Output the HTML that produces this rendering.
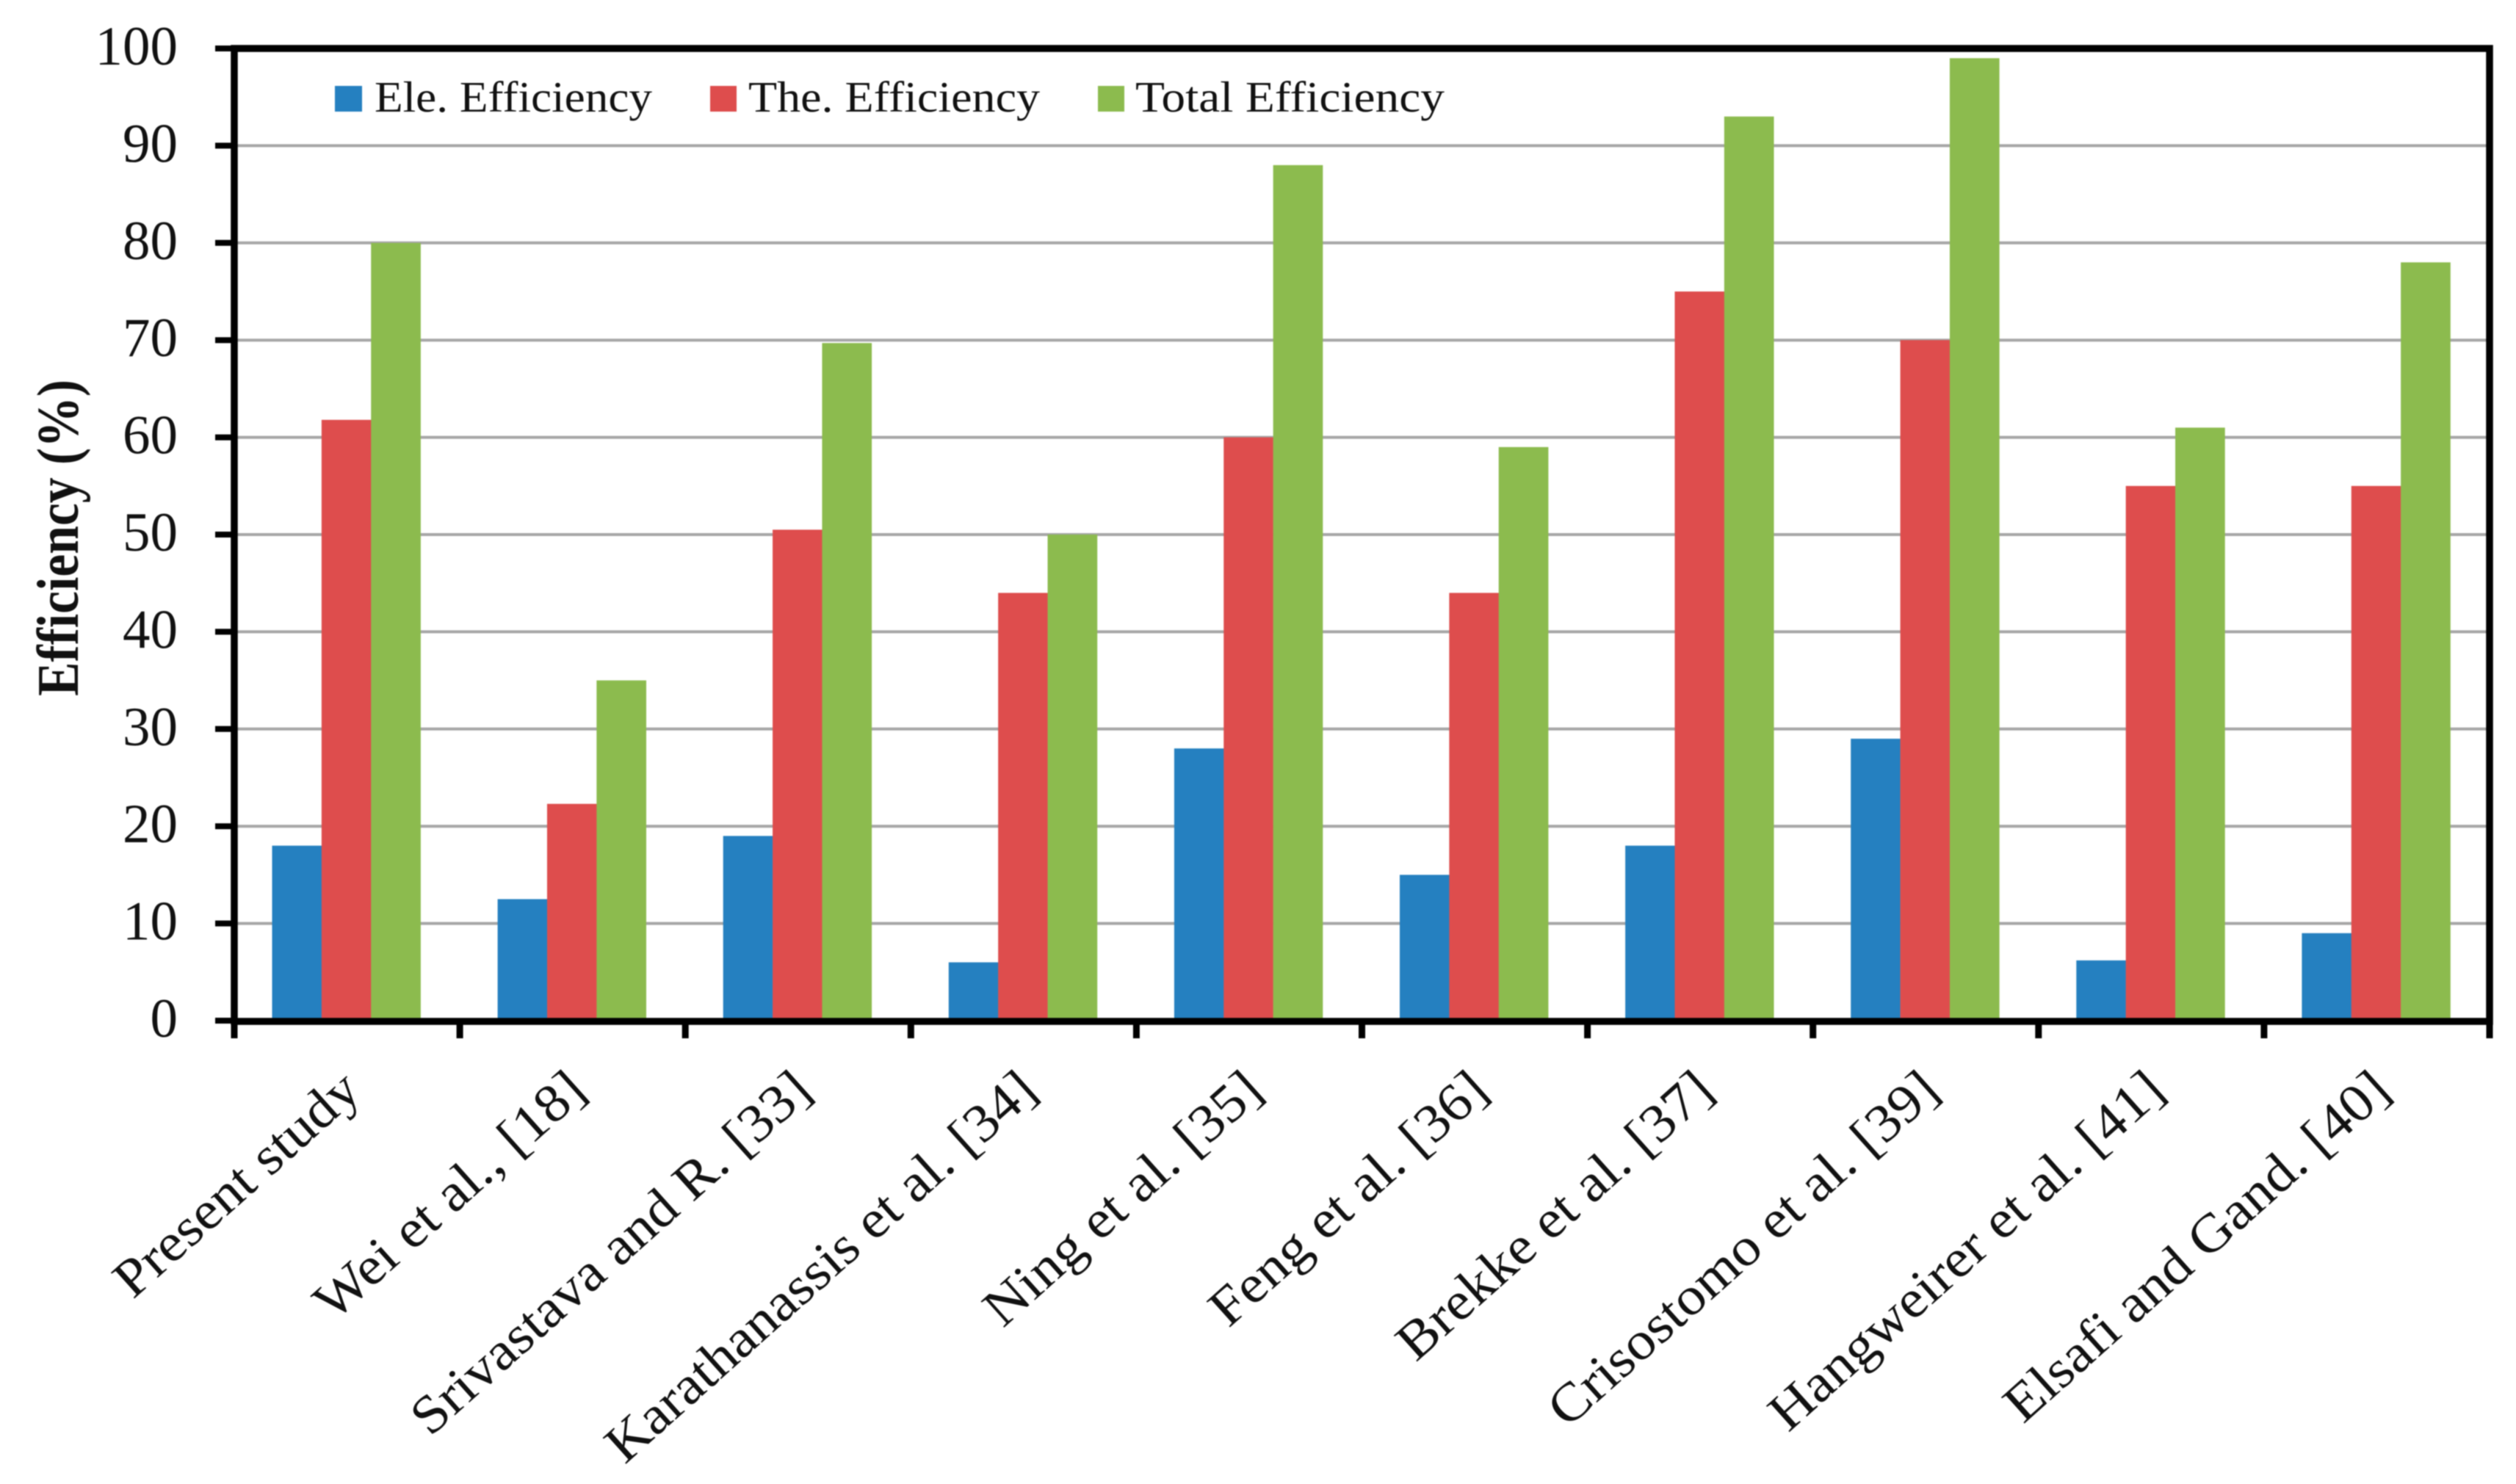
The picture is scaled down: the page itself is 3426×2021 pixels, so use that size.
<!DOCTYPE html>
<html>
<head>
<meta charset="utf-8">
<title>Efficiency comparison chart</title>
<style>
html,body{margin:0;padding:0;background:#fff;}
body{width:3426px;height:2021px;overflow:hidden;}
svg{display:block;filter:blur(0.8px);}
text{font-family:"Liberation Serif",serif;fill:#111;}
</style>
</head>
<body>
<svg id="chart" xmlns="http://www.w3.org/2000/svg" width="3426" height="2021" viewBox="0 0 3426 2021">
<rect x="0" y="0" width="3426" height="2021" fill="#ffffff"/>
<g id="grid"></g>
<g id="bars"></g>
<g id="axes"></g>
<g id="ylabels"></g>
<g id="xlabels"></g>
<text transform="translate(106,948) rotate(-90)" font-size="80" font-weight="bold" textLength="431" lengthAdjust="spacingAndGlyphs">Efficiency (%)</text>
<g id="legend">
<g>
<rect x="456" y="117" width="37" height="35" fill="#2580C0"/>
<text x="510" y="152" font-size="59" textLength="378" lengthAdjust="spacingAndGlyphs">Ele. Efficiency</text>
</g>
<g>
<rect x="967" y="117" width="36" height="35" fill="#DE4D4D"/>
<text x="1019" y="152" font-size="59" textLength="397" lengthAdjust="spacingAndGlyphs">The. Efficiency</text>
</g>
<g>
<rect x="1495" y="117" width="36" height="35" fill="#8CBB4E"/>
<text x="1546" y="152" font-size="59" textLength="421" lengthAdjust="spacingAndGlyphs">Total Efficiency</text>
</g>
</g>
</svg>
<script>
const categories = ["Present study","Wei et al., [18]","Srivastava and R. [33]","Karathanassis et al. [34]","Ning et al. [35]","Feng et al. [36]","Brekke et al. [37]","Crisostomo et al. [39]","Hangweirer et al. [41]","Elsafi and Gand. [40]"];
const eleEfficiency = [18,12.5,19,6,28,15,18,29,6.2,9];
const theEfficiency = [61.8,22.3,50.5,44,60,44,75,70,55,55];
const totalEfficiency = [80,35,69.7,50,88,59,93,99,61,78];
const yTicks = [0,10,20,30,40,50,60,70,80,90,100];

const NS = "http://www.w3.org/2000/svg";
const plotLeft = 319, plotRight = 3390, plotBase = 1390, plotTop = 66;
const yMax = yTicks[yTicks.length - 1];
function yScale(v){ return plotBase - (plotBase - plotTop) * v / yMax; }
function xBand(){ return (plotRight - plotLeft) / categories.length; }
function xEdge(i){ return plotLeft + xBand() * i; }
const barGap = 51.5;
function barWidth(){ return (xBand() - 2 * 52.5) / 3; }
function make(tag, attrs, parent){
  const el = document.createElementNS(NS, tag);
  for (const k in attrs) el.setAttribute(k, attrs[k]);
  parent.appendChild(el);
  return el;
}
const gGrid = document.getElementById("grid");
const gBars = document.getElementById("bars");
const gAxes = document.getElementById("axes");
const gY = document.getElementById("ylabels");
const gX = document.getElementById("xlabels");

yTicks.forEach(function(t){
  const y = yScale(t);
  if (t !== 0 && t !== yMax) {
    const line = make("line", {x1:plotLeft, x2:plotRight, y1:y, y2:y, stroke:"#A6A6A6", "stroke-width":4}, gGrid);
    
    
  }
  const tick = make("line", {x1:293, x2:plotLeft, y1:y, y2:y, stroke:"#000", "stroke-width":8}, gAxes);
  
  
  const lab = make("text", {x:242, y:y + 22, "text-anchor":"end", "font-size":75}, gY);
  lab.textContent = String(t);
  
  
});

function drawSeries(values, colour, offset, name){
  values.forEach(function(v, i){
    const top = yScale(v);
    const bar = make("rect", {x:xEdge(i) + barGap + barWidth() * offset, y:top, width:barWidth() + 0.3, height:yScale(0) - top, fill:colour}, gBars);
    
    
  });
}
drawSeries(eleEfficiency, "#2580C0", 0, "bar-ele-efficiency");
drawSeries(theEfficiency, "#DE4D4D", 1, "bar-the-efficiency");
drawSeries(totalEfficiency, "#8CBB4E", 2, "bar-total-efficiency");

const frame = make("rect", {x:plotLeft, y:plotTop, width:plotRight - plotLeft, height:plotBase + 1 - plotTop, fill:"none", stroke:"#000", "stroke-width":9.5}, gAxes);



for (let i = 0; i <= categories.length; i++) {
  const xt = make("line", {x1:xEdge(i), x2:xEdge(i), y1:plotBase, y2:1414, stroke:"#000", "stroke-width":9}, gAxes);
  
  
}

categories.forEach(function(c, i){
  const ax = xEdge(i) + xBand() / 2 + 22;
  const lab = make("text", {"text-anchor":"end", "font-size":73, transform:"translate(" + ax + ",1490) rotate(-41.8) scale(1.075,1)"}, gX);
  lab.textContent = c;
  
  
});
</script>
</body>
</html>
